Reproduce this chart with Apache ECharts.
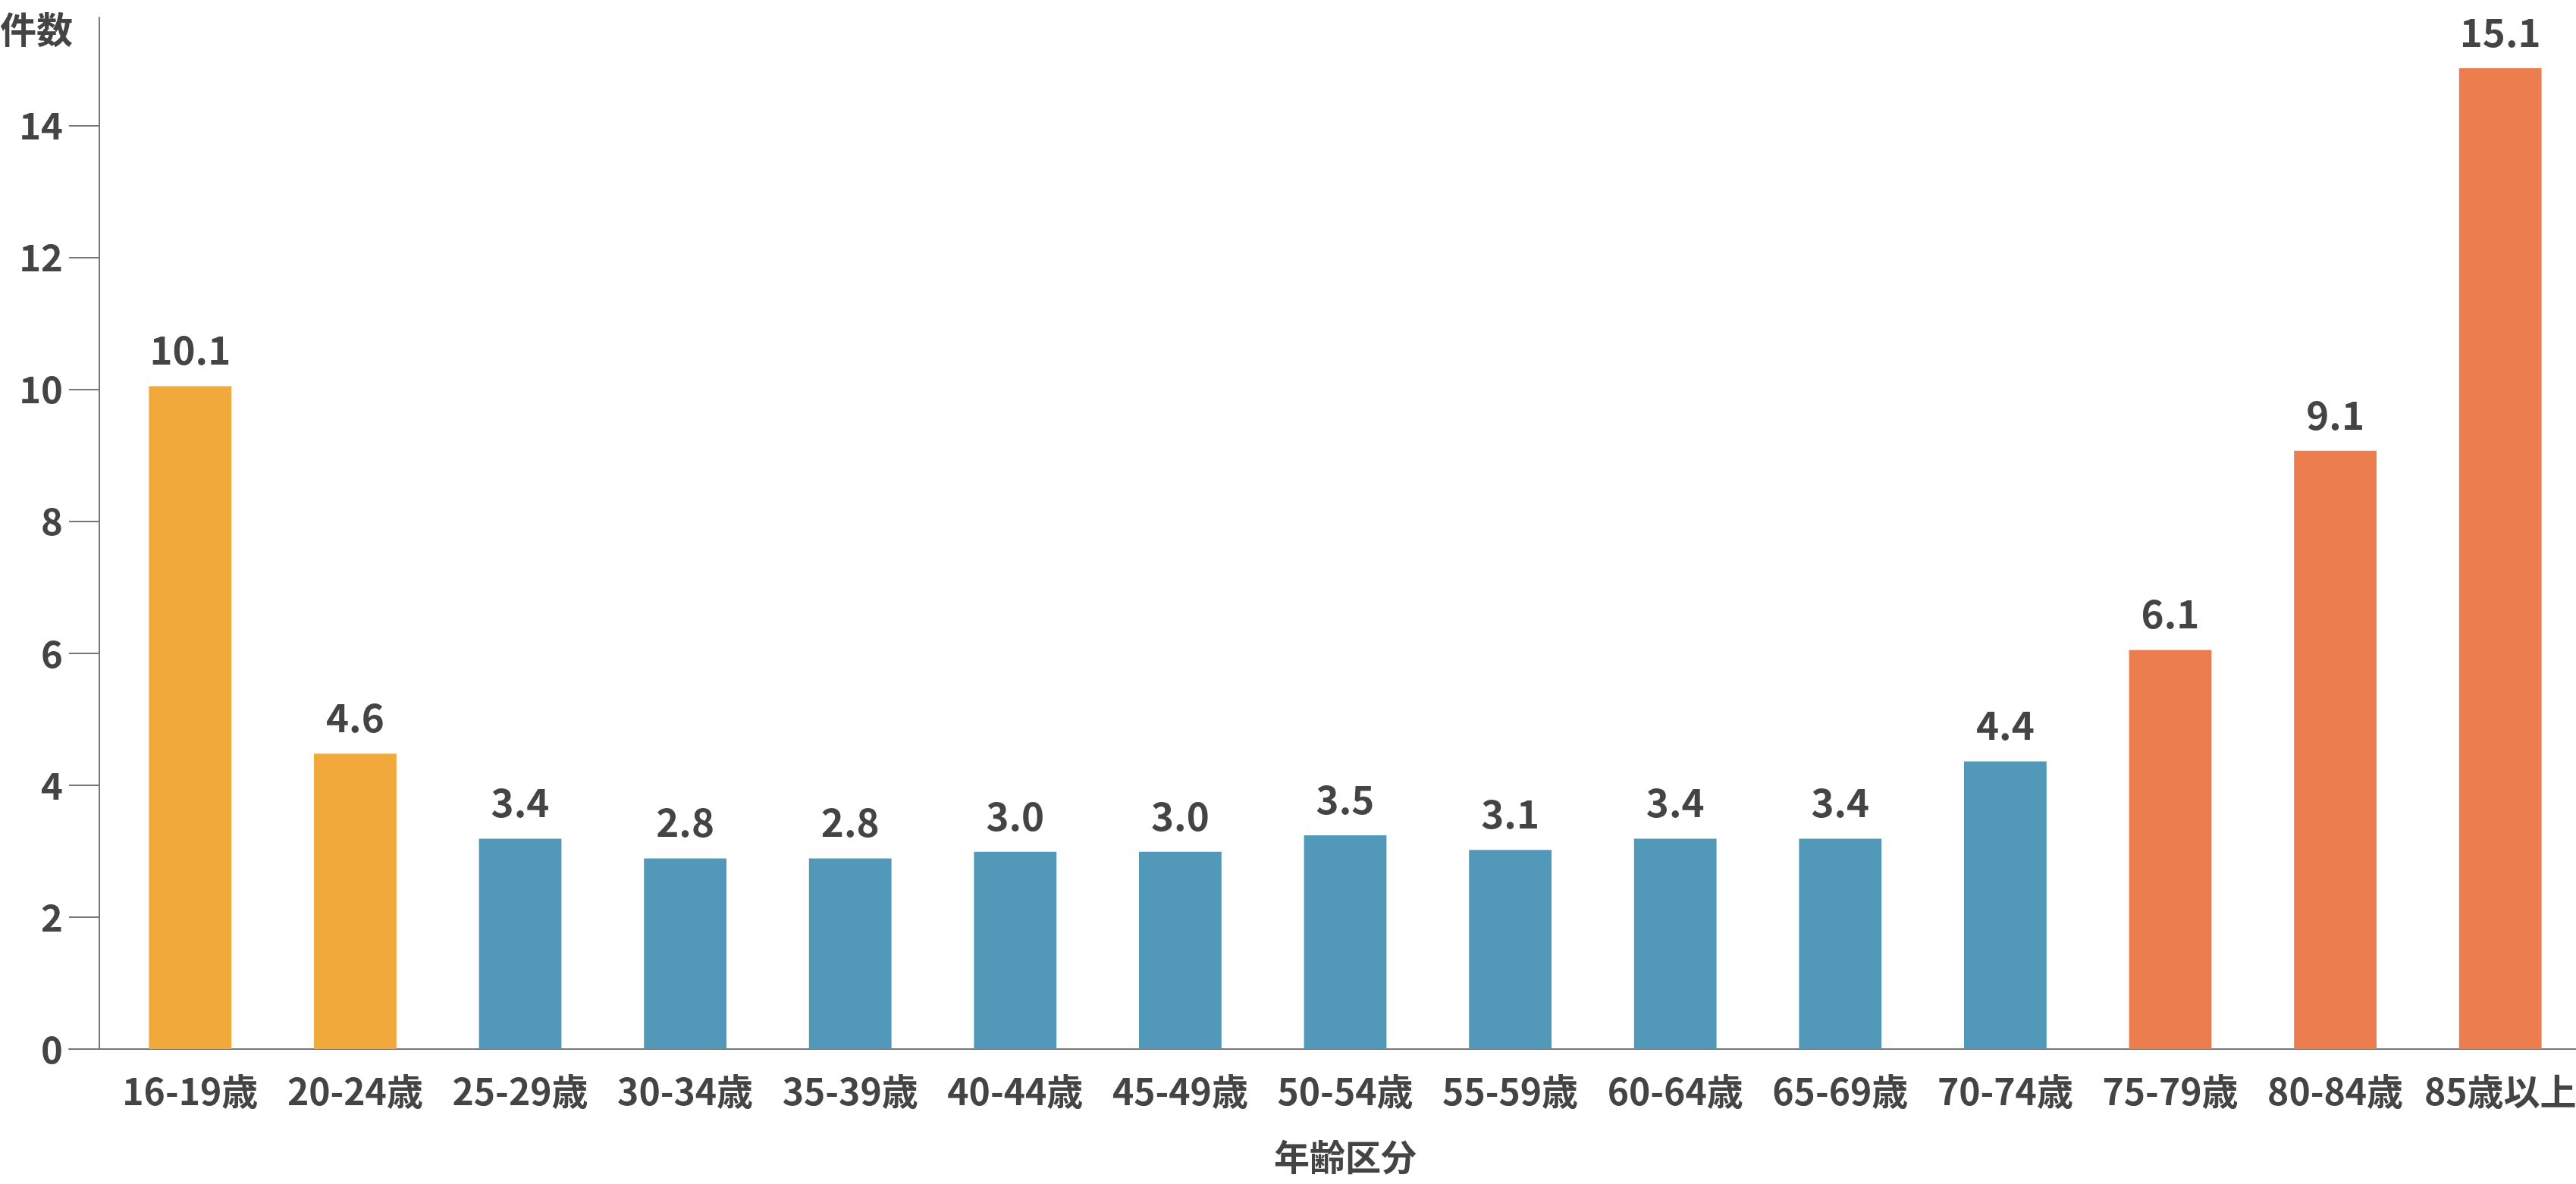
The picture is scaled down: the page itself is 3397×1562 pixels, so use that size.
<!DOCTYPE html>
<html>
<head>
<meta charset="utf-8">
<script src="https://cdn.jsdelivr.net/npm/echarts@6/dist/echarts.min.js"></script>
<style>
html,body{margin:0;padding:0;background:#fff;}
#chart{width:3397px;height:1562px;}
</style>
</head>
<body>
<div id="chart"></div>
<script>
// ---- data ----
const categories = ['16-19歳','20-24歳','25-29歳','30-34歳','35-39歳','40-44歳','45-49歳','50-54歳','55-59歳','60-64歳','65-69歳','70-74歳','75-79歳','80-84歳','85歳以上'];
const barValues = [10.05, 4.48, 3.19, 2.89, 2.89, 2.99, 2.99, 3.24, 3.02, 3.19, 3.19, 4.36, 6.05, 9.07, 14.87];
const valueLabels = ['10.1','4.6','3.4','2.8','2.8','3.0','3.0','3.5','3.1','3.4','3.4','4.4','6.1','9.1','15.1'];
const groups = ['young','young','mid','mid','mid','mid','mid','mid','mid','mid','mid','mid','old','old','old'];
const yTicks = [0, 2, 4, 6, 8, 10, 12, 14];
const yAxisName = '件数';
const xAxisName = '年齢区分';

const groupColors = { young: '#F2A93B', mid: '#5198B9', old: '#EB7D4F' };
const FONT = '"Noto Sans CJK JP", "Noto Sans", sans-serif';
const TEXT = '#444444';
const AXIS = '#777777';

const chart = echarts.init(document.getElementById('chart'));
chart.setOption({
  backgroundColor: '#ffffff',
  animation: false,
  title: {
    text: yAxisName,
    left: 0, top: 15, padding: 0,
    textStyle: { fontFamily: FONT, fontWeight: 'bold', fontSize: 48, color: TEXT }
  },
  grid: [
    { left: 142, width: 3264, top: 23, bottom: 178, containLabel: false, outerBoundsMode: 'none' },
    { left: 91, right: 0, top: 23, bottom: 178, containLabel: false, outerBoundsMode: 'none' }
  ],
  xAxis: [
    {
      type: 'category', gridIndex: 0,
      data: categories,
      axisLine: { show: true, lineStyle: { color: AXIS, width: 2 } },
      axisTick: { show: false },
      axisLabel: { margin: 32, fontFamily: FONT, fontWeight: 'bold', fontSize: 48, color: TEXT, interval: 0 },
      name: xAxisName, nameLocation: 'middle', nameGap: 119,
      nameTextStyle: { fontFamily: FONT, fontWeight: 'bold', fontSize: 47, color: TEXT }
    },
    {
      type: 'value', gridIndex: 1, min: 0, max: 1,
      axisLine: { show: true, lineStyle: { color: AXIS, width: 2 } },
      axisTick: { show: false }, axisLabel: { show: false }, splitLine: { show: false }
    }
  ],
  yAxis: [
    {
      type: 'value', gridIndex: 0, min: 0, max: 15.64, interval: 2, offset: 11,
      axisLine: { show: true, lineStyle: { color: AXIS, width: 2 } },
      axisTick: { show: true, length: 40, customValues: yTicks, lineStyle: { color: AXIS, width: 2 } },
      axisLabel: { margin: 48, customValues: yTicks, fontFamily: FONT, fontWeight: 'bold', fontSize: 49, color: TEXT },
      splitLine: { show: false }
    },
    { type: 'value', gridIndex: 1, show: false, min: 0, max: 1 }
  ],
  series: [{
    type: 'bar', xAxisIndex: 0, yAxisIndex: 0,
    barWidth: '50%',
    data: barValues.map((v, i) => ({ value: v, itemStyle: { color: groupColors[groups[i]] } })),
    label: {
      show: true, position: 'top', distance: 22,
      fontFamily: FONT, fontWeight: 'bold', fontSize: 51, color: TEXT,
      formatter: p => valueLabels[p.dataIndex]
    }
  }]
});
</script>
</body>
</html>
